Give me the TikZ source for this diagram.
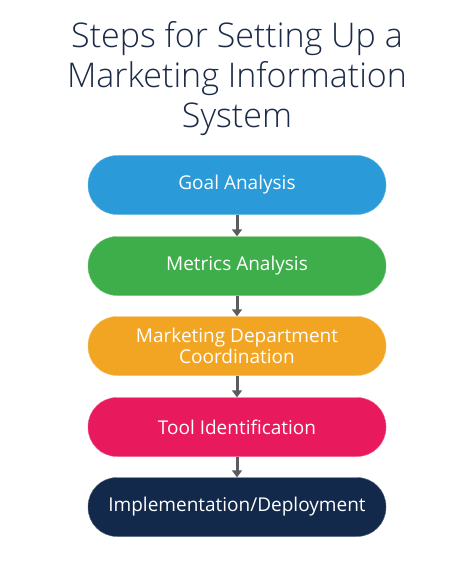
\documentclass[tikz,border=0pt]{standalone}
\usepackage{fontspec}
\setmainfont{Open Sans}
\IfFontExistsTF{Open Sans Light}{\newfontfamily\titlefont{Open Sans Light}}{\newfontfamily\titlefont{Open Sans}}
\usetikzlibrary{arrows.meta,positioning}
\definecolor{goalblue}{HTML}{2A9AD8}
\definecolor{metricgreen}{HTML}{3DAE49}
\definecolor{deptorange}{HTML}{F2A523}
\definecolor{toolpink}{HTML}{E8195C}
\definecolor{implnavy}{HTML}{13294B}
\definecolor{titlenavy}{HTML}{1B2A47}
\definecolor{arrowgray}{HTML}{5A5C60}

\begin{document}
\begin{tikzpicture}[x=1pt, y=-1pt,
    stepbox/.style={rectangle, rounded corners=29pt, minimum width=298pt, minimum height=59pt,
        inner sep=0pt, text=white, align=center, font=\fontsize{19}{21}\selectfont},
    steparrow/.style={arrowgray, line width=3pt, -{Triangle[width=10pt, length=7pt]}}]
    \useasboundingbox (0,0) rectangle (474,564);

    % Title
    \node[titlenavy, align=center, inner sep=0pt, font=\titlefont\fontsize{34}{40}\selectfont]
        (title) at (237,79) {Steps for Setting Up a\\Marketing Information\\System};

    % Steps
    \node[stepbox, fill=goalblue, draw=goalblue!70!white] (goal) at (237,185) {Goal Analysis};
    \node[stepbox, fill=metricgreen, draw=metricgreen!70!white] (metrics) at (237,266) {Metrics Analysis};
    \node[stepbox, fill=deptorange, draw=deptorange!70!white] (dept) at (237,346) {Marketing Department\\Coordination};
    \node[stepbox, fill=toolpink, draw=toolpink!70!white] (tool) at (237,427) {Tool Identification};
    \node[stepbox, fill=implnavy, draw=implnavy!70!white] (impl) at (237,507) {Implementation/Deployment};

    % Arrows
    \draw[steparrow] (goal) -- (metrics);
    \draw[steparrow] (metrics) -- (dept);
    \draw[steparrow] (dept) -- (tool);
    \draw[steparrow] (tool) -- (impl);
\end{tikzpicture}
\end{document}
